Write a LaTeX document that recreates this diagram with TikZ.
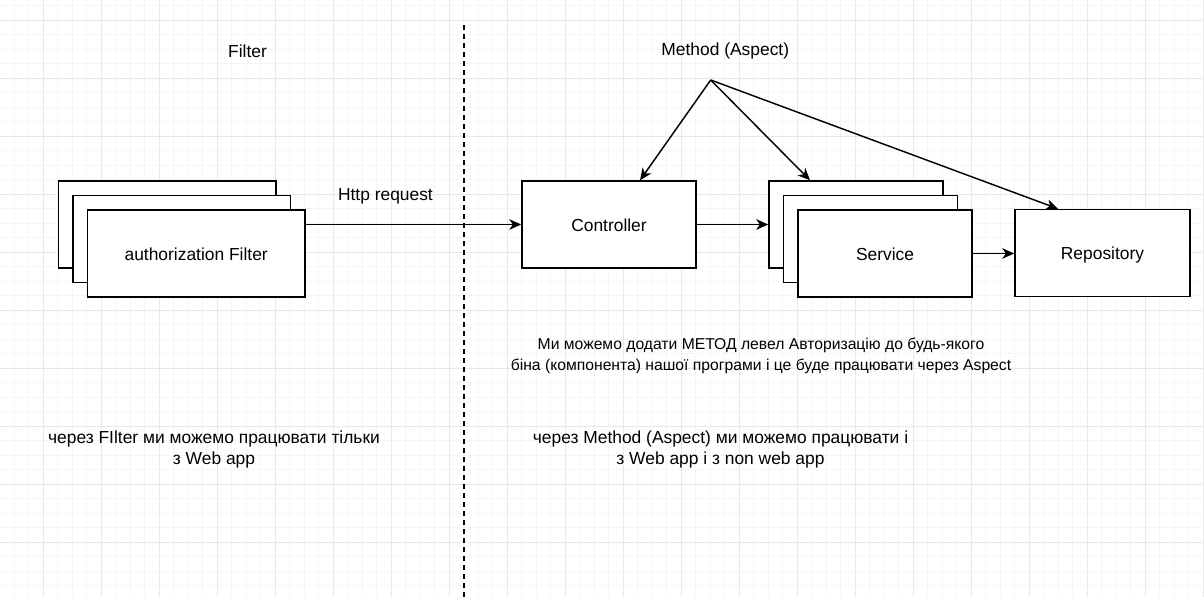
\documentclass[tikz,border=0pt]{standalone}
\usepackage{fontspec}
\setmainfont{Liberation Sans}
\usetikzlibrary{arrows.meta}
\begin{document}
\begin{tikzpicture}[x=1pt,y=-1pt,
  txt/.style={font=\fontsize{17.4}{21.75}\selectfont, text=black, inner sep=0pt, align=center},
  box/.style={draw=black, line width=1.45pt, fill=white, rectangle, minimum height=87pt, inner sep=0pt, text height=14.4pt, text depth=1pt, font=\fontsize{17.4}{21.75}\selectfont},
  wbox/.style={box, minimum width=217.5pt},
  nbox/.style={box, minimum width=174pt},
  arr/.style={line width=1.45pt, -{Stealth[length=12pt,width=10.5pt,inset=3.5pt]}},
  minorline/.style={draw=gray!8, line width=1pt},
  majorline/.style={draw=gray!18, line width=1pt}
]
\useasboundingbox (0,0) rectangle (1204,597);
\fill[white] (0,0) rectangle (1204,597);
% grid
\foreach \i in {0,...,83} {
  \pgfmathsetmacro{\gx}{-0.2+14.5*\i}
  \draw[minorline] (\gx,0) -- (\gx,597);
}
\foreach \j in {0,...,41} {
  \pgfmathsetmacro{\gy}{5.5+14.5*\j}
  \draw[minorline] (0,\gy) -- (1204,\gy);
}
\foreach \i in {0,...,20} {
  \pgfmathsetmacro{\gx}{43.3+58*\i}
  \draw[majorline] (\gx,0) -- (\gx,597);
}
\foreach \j in {0,...,10} {
  \pgfmathsetmacro{\gy}{20+58*\j}
  \draw[majorline] (0,\gy) -- (1204,\gy);
}
% dashed divider
\coordinate (dtop) at (464,25);
\coordinate (dbot) at (464,597);
\draw[line width=1.5pt, dash pattern=on 4.5pt off 4.5pt] (dtop) -- (dbot);
% titles
\node[txt] (tfilter) at (247.5,51.5) {Filter};
\node[txt] (tmethod) at (725.3,51.5) {Method (Aspect)};
\coordinate (m) at (710.7,80);
% filter stack
\node[wbox] (fa) at (167.2,224.5) {};
\node[wbox] (fb) at (181.7,239) {};
\node[wbox] (fc) at (196.2,253.5) {authorization Filter};
% controller
\node[nbox] (ctrl) at (609,224.5) {Controller};
% service stack
\node[nbox] (sa) at (856,224.5) {};
\node[nbox] (sb) at (870.5,239) {};
\node[nbox] (sc) at (885,253.5) {Service};
% repository
\node[nbox, minimum width=175pt] (repo) at (1102.5,253) {Repository};
% connectors
\draw[arr] (fc.east |- ctrl.west) -- node[txt, pos=0.37, above=20pt] (thttp) {Http request} (ctrl.west);
\draw[arr] (ctrl.east) -- (ctrl.east -| sa.west);
\draw[arr] (sc.east) -- (sc.east -| repo.west);
\draw[arr] (m) -- ([xshift=31pt]ctrl.north);
\draw[arr] (m) -- ([xshift=-46pt]sa.north);
\draw[arr] (m) -- ([xshift=-44.5pt]repo.north);
% notes
\node[txt, font=\fontsize{15.7}{21.2}\selectfont] (note1) at (761,356) {Ми можемо додати МЕТОД левел Авторизацію до будь-якого\\біна (компонента) нашої програми і це буде працювати через Aspect};
\node[txt] (note2) at (214,449.5) {через FIlter ми можемо працювати тільки\\з Web app};
\node[txt] (note3) at (720.5,449.5) {через Method (Aspect) ми можемо працювати і\\з Web app і з non web app};
\end{tikzpicture}
\end{document}
